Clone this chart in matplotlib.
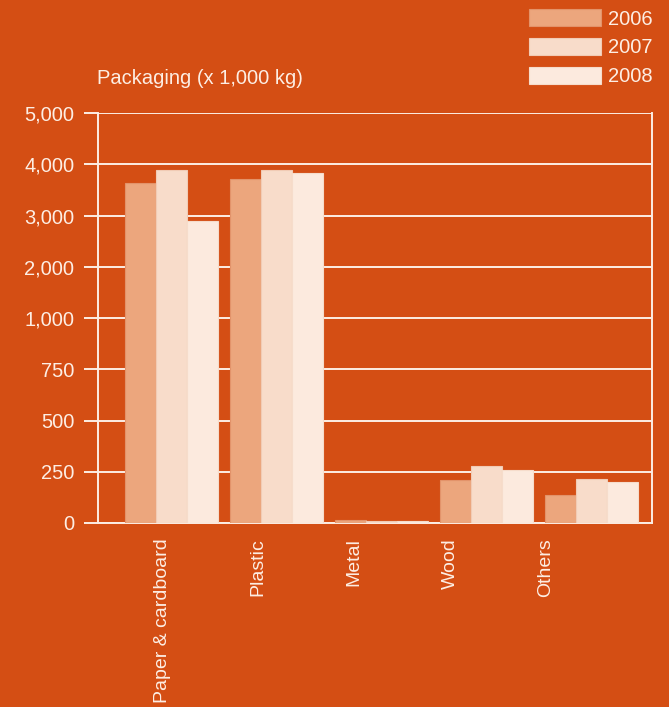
import numpy as np
import matplotlib
matplotlib.use("Agg")
import matplotlib.pyplot as plt
from matplotlib.patches import Patch

categories = ["Paper & cardboard", "Plastic", "Metal", "Wood", "Others"]
years = ["2006", "2007", "2008"]
values_2006 = [3630, 3710, 15, 212, 138]
values_2007 = [3885, 3895, 10, 278, 213]
values_2008 = [2900, 3825, 10, 260, 198]
y_ticks = [0, 250, 500, 750, 1000, 2000, 3000, 4000, 5000]
y_tick_labels = ["0", "250", "500", "750", "1,000", "2,000", "3,000", "4,000", "5,000"]

BG = "#D44E14"
FG = "#FDEEE4"
bar_colors = ["#ECA67D", "#F8DCCA", "#FCEADE"]
edge_colors = ["#E3936A", "#F1CBB5", "#F6DCCB"]
FS = 14.5

plt.rcParams["font.family"] = ["Liberation Sans", "DejaVu Sans"]


# Broken scale: 250-steps up to 1,000, then 1,000-steps up to 5,000
def fwd(v):
    v = np.asarray(v, dtype=float)
    return np.where(v <= 1000, v / 250.0, 4.0 + (v - 1000.0) / 1000.0)


def inv(t):
    t = np.asarray(t, dtype=float)
    return np.where(t <= 4, t * 250.0, 1000.0 + (t - 4.0) * 1000.0)


fig = plt.figure(figsize=(6.69, 7.07), dpi=100, facecolor=BG)
ax = fig.add_axes([98 / 669, 1 - 523 / 707, 554 / 669, 410 / 707])
ax.set_facecolor(BG)
ax.set_yscale("function", functions=(fwd, inv))
ax.set_ylim(0, 5000)
ax.set_xlim(-0.70, 4.58)

x = np.arange(len(categories))
width = 0.296
series = [values_2006, values_2007, values_2008]
for i, (vals, c, ec) in enumerate(zip(series, bar_colors, edge_colors)):
    ax.bar(x + (i - 1) * width, vals, width=width, color=c, edgecolor=ec,
           linewidth=0.8, label=years[i], zorder=3)

ax.set_yticks(y_ticks)
ax.set_yticklabels(y_tick_labels)
ax.yaxis.set_minor_locator(matplotlib.ticker.NullLocator())
ax.grid(axis="y", color=FG, linewidth=1.4, zorder=1)
ax.tick_params(axis="y", length=10, width=1.4, color=FG, colors=FG,
               labelsize=FS, pad=7, direction="out")

label_pos = np.arange(len(categories)) * 0.915 - 0.09
ax.set_xticks(label_pos)
ax.set_xticklabels(categories, rotation=90, va="top", ha="center")
ax.tick_params(axis="x", length=0, colors=FG, labelsize=14, pad=11)

for side in ["left", "right", "bottom"]:
    ax.spines[side].set_color(FG)
    ax.spines[side].set_linewidth(1.4)
ax.spines["top"].set_visible(False)

fig.text(97 / 669, 1 - 84 / 707, "Packaging (x 1,000 kg)", color=FG,
         fontsize=FS, ha="left", va="baseline")

handles = [Patch(facecolor=c, edgecolor=ec, linewidth=0.8)
           for c, ec in zip(bar_colors, edge_colors)]
leg = fig.legend(handles, years, loc="upper right",
                 bbox_to_anchor=(653 / 669, 1 - 9 / 707), frameon=False,
                 fontsize=FS, handlelength=3.58, handleheight=0.95,
                 labelspacing=0.46, handletextpad=0.35, borderpad=0,
                 borderaxespad=0)
for t in leg.get_texts():
    t.set_color(FG)

fig.savefig("out.png", dpi=100, facecolor=BG)
